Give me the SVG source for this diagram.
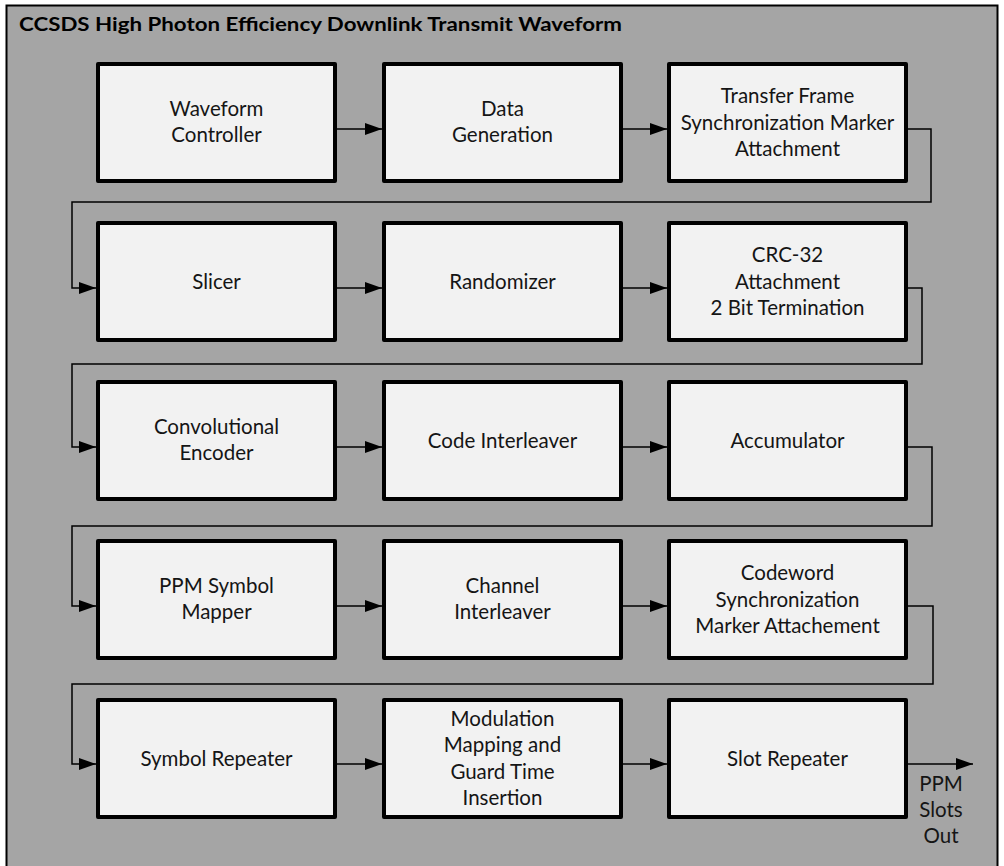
<svg xmlns="http://www.w3.org/2000/svg" width="1004" height="866" viewBox="0 0 1004 866">
<style>
.frame{fill:#a5a5a5;stroke:#000;stroke-width:2}
.box rect{fill:#f2f2f2;stroke:#000;stroke-width:4;stroke-linejoin:round}
.box text, .lbl{font-family:Lato,"Liberation Sans",sans-serif;font-size:20.5px;fill:#151515;text-anchor:middle}
.title{font-family:Lato,"Liberation Sans",sans-serif;font-size:18.5px;font-weight:bold;fill:#000}
.conn path{fill:none;stroke:#000;stroke-width:1.5;marker-end:url(#arr)}
</style>
<defs>
<marker id="arr" markerUnits="userSpaceOnUse" markerWidth="17" markerHeight="12" refX="17" refY="6" orient="auto">
<path d="M0,0 L17,6 L0,12 Z" fill="#000"/>
</marker>
</defs>
<rect class="frame" x="6.5" y="5.5" width="991" height="900"/>
<text class="title" x="19" y="31" textLength="603" lengthAdjust="spacingAndGlyphs">CCSDS High Photon Efficiency Downlink Transmit Waveform</text>

<g id="n1" class="box"><rect x="98" y="64" width="237" height="117"/><text x="216.5" y="115.75">Waveform</text><text x="216.5" y="142.25">Controller</text></g>
<g id="n2" class="box"><rect x="384" y="64" width="237" height="117"/><text x="502.5" y="115.75">Data</text><text x="502.5" y="142.25">Generation</text></g>
<g id="n3" class="box"><rect x="669" y="64" width="237" height="117"/><text x="787.5" y="103">Transfer Frame</text><text x="787.5" y="129.5">Synchronization Marker</text><text x="787.5" y="156">Attachment</text></g>

<g id="n4" class="box"><rect x="98" y="223" width="237" height="117"/><text x="216.5" y="288.5">Slicer</text></g>
<g id="n5" class="box"><rect x="384" y="223" width="237" height="117"/><text x="502.5" y="288.5">Randomizer</text></g>
<g id="n6" class="box"><rect x="669" y="223" width="237" height="117"/><text x="787.5" y="262">CRC-32</text><text x="787.5" y="288.5">Attachment</text><text x="787.5" y="315">2 Bit Termination</text></g>

<g id="n7" class="box"><rect x="98" y="382" width="237" height="117"/><text x="216.5" y="433.75">Convolutional</text><text x="216.5" y="460.25">Encoder</text></g>
<g id="n8" class="box"><rect x="384" y="382" width="237" height="117"/><text x="502.5" y="447.5">Code Interleaver</text></g>
<g id="n9" class="box"><rect x="669" y="382" width="237" height="117"/><text x="787.5" y="447.5">Accumulator</text></g>

<g id="n10" class="box"><rect x="98" y="541" width="237" height="117"/><text x="216.5" y="592.75">PPM Symbol</text><text x="216.5" y="619.25">Mapper</text></g>
<g id="n11" class="box"><rect x="384" y="541" width="237" height="117"/><text x="502.5" y="592.75">Channel</text><text x="502.5" y="619.25">Interleaver</text></g>
<g id="n12" class="box"><rect x="669" y="541" width="237" height="117"/><text x="787.5" y="580">Codeword</text><text x="787.5" y="606.5">Synchronization</text><text x="787.5" y="633">Marker Attachement</text></g>

<g id="n13" class="box"><rect x="98" y="700" width="237" height="117"/><text x="216.5" y="765.5">Symbol Repeater</text></g>
<g id="n14" class="box"><rect x="384" y="700" width="237" height="117"/><text x="502.5" y="725.5">Modulation</text><text x="502.5" y="752">Mapping and</text><text x="502.5" y="778.5">Guard Time</text><text x="502.5" y="805">Insertion</text></g>
<g id="n15" class="box"><rect x="669" y="700" width="237" height="117"/><text x="787.5" y="765.5">Slot Repeater</text></g>

<g id="connectors" class="conn">
<path d="M337,129 H382"/>
<path d="M623,129 H667"/>
<path d="M908,129 H931 V202 H72 V288 H96"/>
<path d="M337,288 H382"/>
<path d="M623,288 H667"/>
<path d="M908,288 H922 V364 H72 V447 H96"/>
<path d="M337,447 H382"/>
<path d="M623,447 H667"/>
<path d="M908,447 H932 V526 H72 V606 H96"/>
<path d="M337,606 H382"/>
<path d="M623,606 H667"/>
<path d="M908,606 H933 V684 H72 V764 H96"/>
<path d="M337,764 H382"/>
<path d="M623,764 H667"/>
<path d="M908,764 H973"/>
</g>
<g id="out-label">
<text class="lbl" x="941" y="791">PPM</text>
<text class="lbl" x="941" y="817">Slots</text>
<text class="lbl" x="941" y="843">Out</text>
</g>
</svg>
